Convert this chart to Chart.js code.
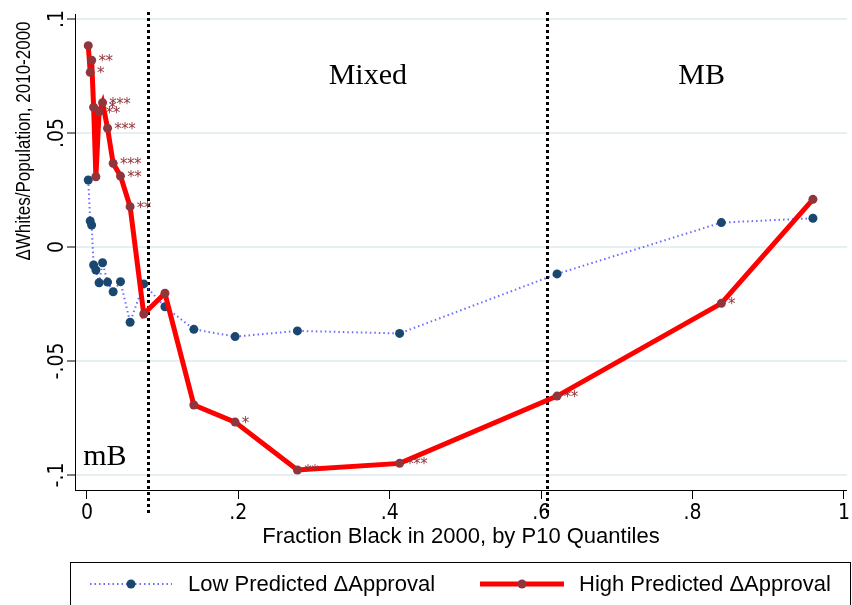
<!DOCTYPE html>
<html>
<head>
<meta charset="utf-8">
<script src="https://cdn.jsdelivr.net/npm/chart.js@4"></script>
<style>
  html, body { margin: 0; padding: 0; background: #fff; }
  #wrap { width: 852px; height: 605px; }
</style>
</head>
<body>
<div id="wrap"><canvas id="chart" width="852" height="605"></canvas></div>
<script>
// fraction black (P10 quantile bins) and the two series
const fracBlack = [0.0017, 0.0043, 0.0062, 0.0088, 0.0118, 0.016, 0.0206, 0.0272, 0.0346, 0.0443,
                   0.057, 0.075, 0.103, 0.1412, 0.1957, 0.278, 0.413, 0.621, 0.838, 0.959];
const lowApproval = [0.0294, 0.0114, 0.0096, -0.0079, -0.0101, -0.0157, -0.0069, -0.0154, -0.0196, -0.0152,
                     -0.033, -0.0162, -0.0262, -0.0361, -0.0393, -0.0368, -0.0379, -0.0118, 0.0107, 0.0126];
const highApproval = [0.0883, 0.0766, 0.0819, 0.0613, 0.0308, 0.0593, 0.0633, 0.0521, 0.0367, 0.0311,
                      0.0177, -0.0294, -0.0203, -0.0693, -0.0768, -0.0978, -0.0949, -0.0654, -0.0247, 0.0209];
const highStars = ["", "*", "**", "*", "", "**", "***", "***", "***", "**",
                   "**", "", "", "", "*", "**", "***", "**", "*", ""];
const seriesNames = ["Low Predicted \u0394Approval", "High Predicted \u0394Approval"];
const xTicks = [0, 0.2, 0.4, 0.6, 0.8, 1];
const yTicks = [-0.1, -0.05, 0, 0.05, 0.1];
const cutoffs = [0.08, 0.608];
const regionNames = ["mB", "Mixed", "MB"];

const BLUE_LINE = "rgba(70,70,255,0.8)";
const BLUE_MARK = "#1a476f";
const RED_LINE = "#ff0000";
const RED_MARK = "#90353b";
const NARROW = "'Liberation Sans Narrow', 'DejaVu Sans Condensed', sans-serif";
const SANS = "'Liberation Sans', Arial, sans-serif";

function fmt(v) {
  if (v === 0) return "0";
  return String(Math.round(v * 1000) / 1000).replace("0.", ".");
}

function pts(ys) {
  return fracBlack.map((x, i) => ({ x: x, y: ys[i] }));
}

const overlay = {
  id: "overlay",
  beforeDatasetsDraw(chart) {
    const ctx = chart.ctx, xs = chart.scales.x;
    ctx.save();
    ctx.strokeStyle = "#000";
    ctx.lineWidth = 3;
    ctx.setLineDash([3, 3]);
    cutoffs.forEach(c => {
      const px = Math.round(xs.getPixelForValue(c)) + 0.5;
      ctx.beginPath();
      ctx.moveTo(px, 12);
      ctx.lineTo(px, 516);
      ctx.stroke();
    });
    ctx.restore();
  },
  afterDatasetsDraw(chart) {
    const ctx = chart.ctx;
    const meta = chart.getDatasetMeta(1);
    ctx.save();
    ctx.fillStyle = RED_MARK;
    ctx.font = "15px 'DejaVu Sans', sans-serif";
    ctx.textAlign = "center";
    ctx.textBaseline = "alphabetic";
    meta.data.forEach((el, i) => {
      const s = highStars[i];
      if (!s) return;
      const nudge = i === 3 ? 8.5 : 0;
      for (let k = 0; k < s.length; k++) {
        ctx.fillText("*", el.x + 10.5 + nudge + 7 * k, el.y - 3 + 9);
      }
    });
    ctx.restore();
  },
  afterDraw(chart) {
    const ctx = chart.ctx, xs = chart.scales.x, ys = chart.scales.y;
    ctx.save();
    // y tick labels, rotated like Stata
    ctx.fillStyle = "#000";
    ctx.font = "21px " + NARROW;
    ctx.textAlign = "center";
    ctx.textBaseline = "middle";
    yTicks.forEach(v => {
      ctx.save();
      ctx.translate(58, ys.getPixelForValue(v));
      ctx.rotate(-Math.PI / 2);
      ctx.fillText(fmt(v), 0, 0);
      ctx.restore();
    });
    // y title (squeezed a bit along the text, like a narrow face)
    ctx.save();
    ctx.font = "20px " + SANS;
    ctx.translate(24, 141);
    ctx.rotate(-Math.PI / 2);
    ctx.scale(0.85, 1);
    ctx.fillText("\u0394Whites/Population, 2010-2000", 0, 0);
    ctx.restore();

    // region labels
    ctx.font = "30px 'Liberation Serif', 'Times New Roman', serif";
    ctx.fillText(regionNames[0], xs.getPixelForValue(0.0237), ys.getPixelForValue(-0.0921));
    ctx.fillText(regionNames[1], xs.getPixelForValue(0.371), ys.getPixelForValue(0.075));
    ctx.fillText(regionNames[2], xs.getPixelForValue(0.812), ys.getPixelForValue(0.075));

    // legend
    ctx.strokeStyle = "#000";
    ctx.lineWidth = 1;
    ctx.strokeRect(70.5, 562.5, 780, 60);
    const ly = 584;
    ctx.strokeStyle = BLUE_LINE;
    ctx.lineWidth = 2;
    ctx.setLineDash([1.5, 3]);
    ctx.beginPath(); ctx.moveTo(90, ly); ctx.lineTo(172, ly); ctx.stroke();
    ctx.setLineDash([]);
    ctx.fillStyle = BLUE_MARK;
    ctx.beginPath(); ctx.arc(131, ly, 4.5, 0, Math.PI * 2); ctx.fill();
    ctx.strokeStyle = RED_LINE;
    ctx.lineWidth = 5;
    ctx.beginPath(); ctx.moveTo(480, ly); ctx.lineTo(564, ly); ctx.stroke();
    ctx.fillStyle = RED_MARK;
    ctx.beginPath(); ctx.arc(522, ly, 4.5, 0, Math.PI * 2); ctx.fill();
    ctx.fillStyle = "#000";
    ctx.font = "22px " + SANS;
    ctx.textAlign = "left";
    ctx.fillText(seriesNames[0], 188, ly + 1);
    ctx.fillText(seriesNames[1], 579, ly + 1);
    ctx.restore();
  }
};

const ctx = document.getElementById("chart").getContext("2d");
const myChart = new Chart(ctx, {
  type: "line",
  data: {
    datasets: [
      {
        label: seriesNames[0],
        data: pts(lowApproval),
        borderColor: BLUE_LINE,
        borderWidth: 2,
        borderDash: [1.5, 3],
        pointRadius: 4.5,
        pointBorderWidth: 0,
        pointBackgroundColor: BLUE_MARK,
        tension: 0,
        order: 2,
      },
      {
        label: seriesNames[1],
        data: pts(highApproval),
        borderColor: RED_LINE,
        borderWidth: 5,
        pointRadius: 4.5,
        pointBorderWidth: 0,
        pointBackgroundColor: RED_MARK,
        tension: 0,
        order: 1,
      },
    ],
  },
  options: {
    responsive: false,
    animation: false,
    devicePixelRatio: 1,
    layout: { padding: { top: 14, right: 2, left: 0, bottom: 0 } },
    plugins: { legend: { display: false }, tooltip: { enabled: false } },
    scales: {
      x: {
        type: "linear",
        min: -0.0158,
        max: 1.0039,
        afterBuildTicks: s => { s.ticks = xTicks.map(v => ({ value: v })); },
        afterFit: s => { s.height = 115; },
        grid: { drawOnChartArea: false, tickLength: 9, tickColor: "#000", tickWidth: 1 },
        border: { color: "#000", width: 1 },
        ticks: {
          color: "#000",
          padding: 2,
          maxRotation: 0,
          font: { family: NARROW, size: 21 },
          callback: v => fmt(v),
        },
        title: {
          display: true,
          text: "Fraction Black in 2000, by P10 Quantiles",
          color: "#000",
          font: { family: SANS, size: 22 },
          padding: { top: 0, bottom: 55 },
        },
      },
      y: {
        type: "linear",
        min: -0.10658,
        max: 0.1022,
        afterBuildTicks: s => { s.ticks = yTicks.map(v => ({ value: v })); },
        afterFit: s => { s.width = 75; },
        grid: { color: "#e6eff1", lineWidth: 2, tickLength: 8, tickColor: "#000", tickWidth: 1 },
        border: { color: "#000", width: 1 },
        ticks: { display: false },
      },
    },
  },
  plugins: [overlay],
});
</script>
</body>
</html>
